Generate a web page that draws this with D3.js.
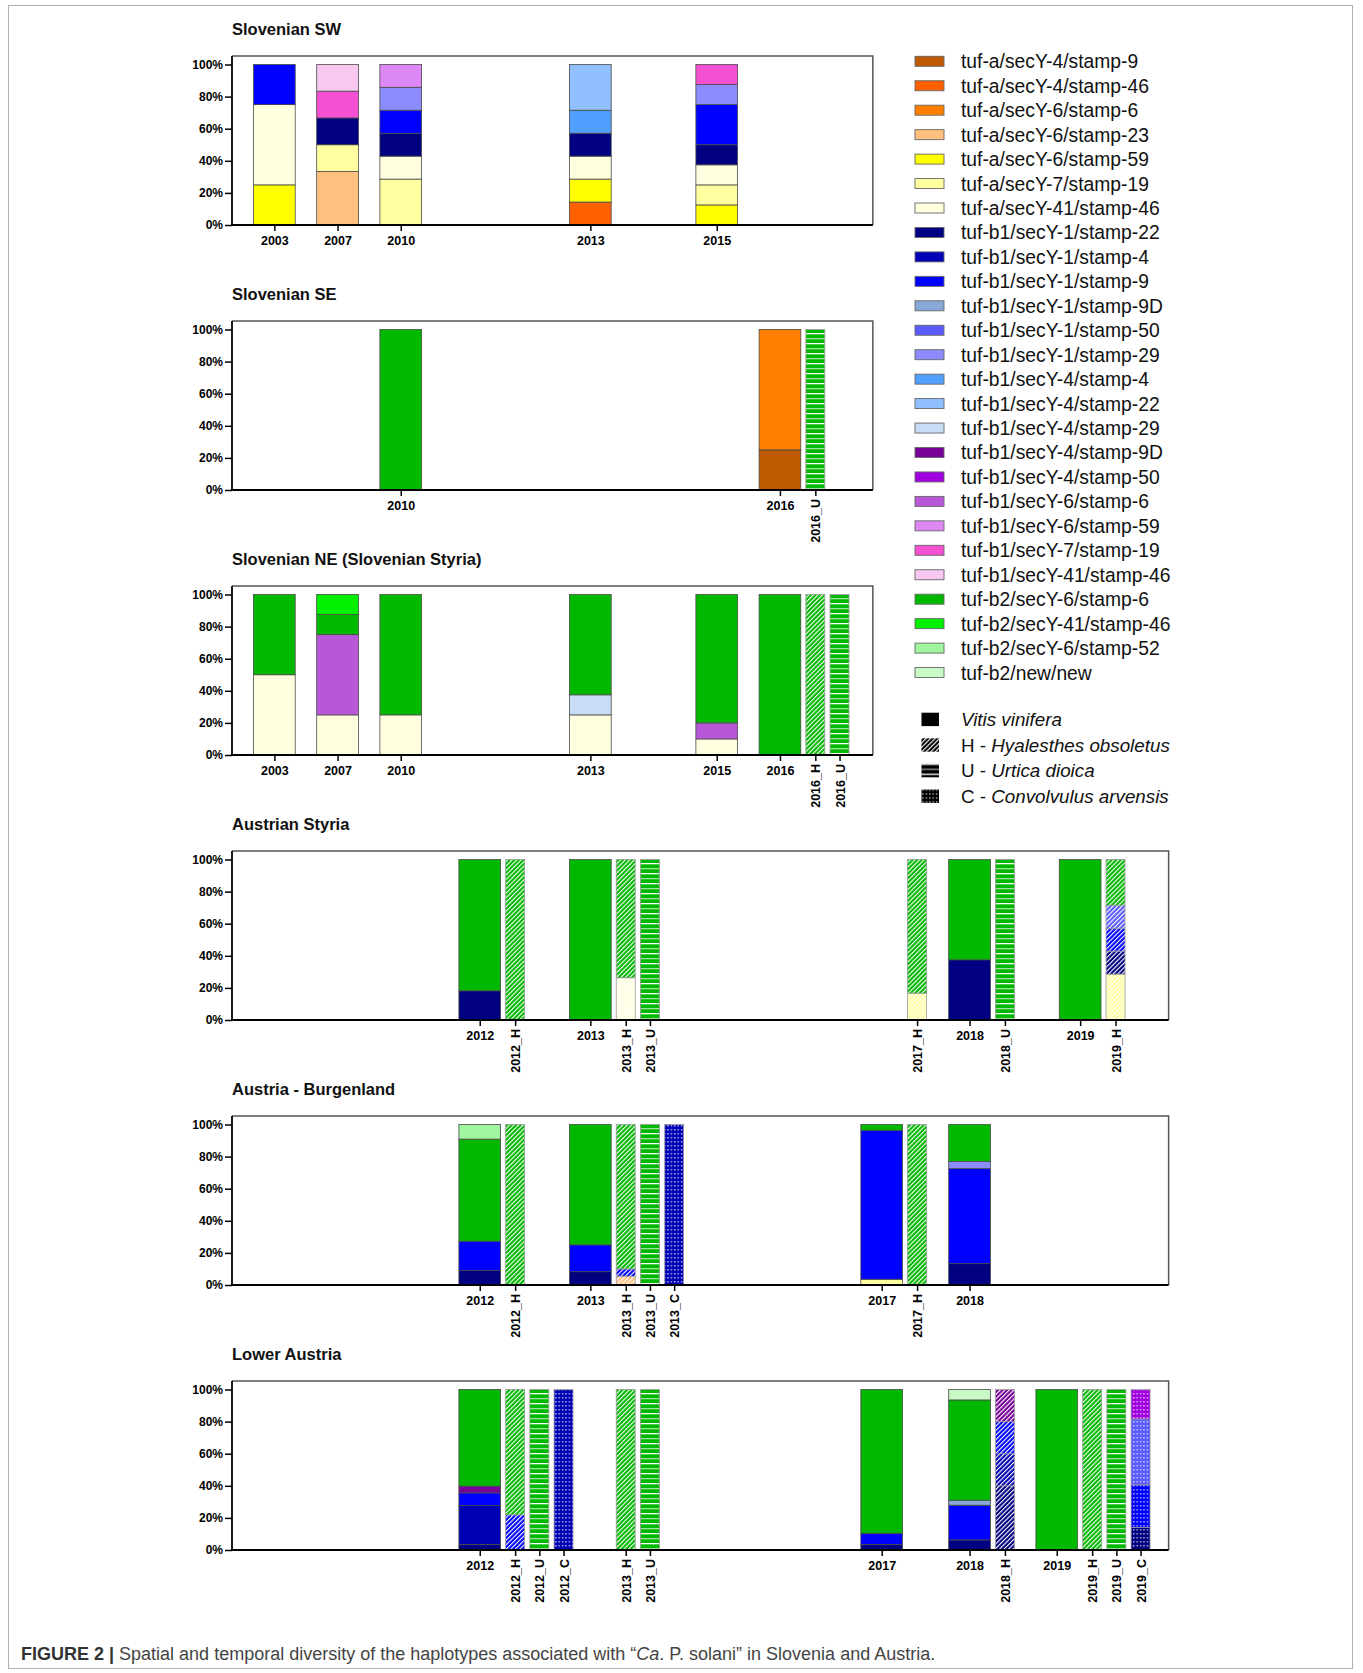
<!DOCTYPE html>
<html>
<head>
<meta charset="utf-8">
<script src="https://cdn.jsdelivr.net/npm/d3@7"></script>
<style>
  body { margin: 0; background: #fff; }
  svg text { font-family: "Liberation Sans", Arial, Helvetica, sans-serif; }
</style>
</head>
<body>
<svg id="fig"></svg>
<script>
// ---- data ----
const haplotypes = [
  "tuf-a/secY-4/stamp-9", "tuf-a/secY-4/stamp-46", "tuf-a/secY-6/stamp-6", "tuf-a/secY-6/stamp-23",
  "tuf-a/secY-6/stamp-59", "tuf-a/secY-7/stamp-19", "tuf-a/secY-41/stamp-46", "tuf-b1/secY-1/stamp-22",
  "tuf-b1/secY-1/stamp-4", "tuf-b1/secY-1/stamp-9", "tuf-b1/secY-1/stamp-9D", "tuf-b1/secY-1/stamp-50",
  "tuf-b1/secY-1/stamp-29", "tuf-b1/secY-4/stamp-4", "tuf-b1/secY-4/stamp-22", "tuf-b1/secY-4/stamp-29",
  "tuf-b1/secY-4/stamp-9D", "tuf-b1/secY-4/stamp-50", "tuf-b1/secY-6/stamp-6", "tuf-b1/secY-6/stamp-59",
  "tuf-b1/secY-7/stamp-19", "tuf-b1/secY-41/stamp-46", "tuf-b2/secY-6/stamp-6", "tuf-b2/secY-41/stamp-46",
  "tuf-b2/secY-6/stamp-52", "tuf-b2/new/new"
];
const hapColors = [
  "#c05a00", "#ff6000", "#ff8000", "#ffc080", "#ffff00", "#ffffa0", "#ffffe0", "#000080",
  "#0000b4", "#0000ff", "#88a8d8", "#5a5aff", "#8c8cff", "#50a0ff", "#90c0ff", "#c8dcf5",
  "#780096", "#a000e0", "#b858d8", "#dd88f5", "#f550d2", "#f8c8f0", "#00b800", "#00f000",
  "#a0f5a0", "#c8fac8"
];
const hostKeys = ["", "H", "U", "C"];
const hostLabels = [["", "Vitis vinifera"], ["H - ", "Hyalesthes obsoletus"], ["U - ", "Urtica dioica"], ["C - ", "Convolvulus arvensis"]];
const yTickLabels = ["0%", "20%", "40%", "60%", "80%", "100%"];
const panelTitles = ["Slovenian SW", "Slovenian SE", "Slovenian NE (Slovenian Styria)", "Austrian Styria", "Austria - Burgenland", "Lower Austria"];

// segments: [haplotype index, % share], stacked bottom to top
const swBars = ["2003", "2007", "2010", "2013", "2015"];
const swSegs = [
  [[4, 25], [6, 50], [9, 25]],
  [[3, 33.3], [5, 16.7], [7, 16.7], [20, 16.7], [21, 16.6]],
  [[5, 28.6], [6, 14.3], [7, 14.3], [9, 14.3], [12, 14.3], [19, 14.2]],
  [[1, 14.3], [4, 14.3], [6, 14.3], [7, 14.3], [13, 14.3], [14, 28.5]],
  [[4, 12.5], [5, 12.5], [6, 12.5], [7, 12.5], [9, 25], [12, 12.5], [20, 12.5]]
];
const seBars = ["2010", "2016", "2016_U"];
const seSegs = [
  [[22, 100]],
  [[0, 25], [2, 75]],
  [[22, 100]]
];
const neBars = ["2003", "2007", "2010", "2013", "2015", "2016", "2016_H", "2016_U"];
const neSegs = [
  [[6, 50], [22, 50]],
  [[6, 25], [18, 50], [22, 12.5], [23, 12.5]],
  [[6, 25], [22, 75]],
  [[6, 25], [15, 12.5], [22, 62.5]],
  [[6, 10], [18, 10], [22, 80]],
  [[22, 100]],
  [[22, 100]],
  [[22, 100]]
];
const styBars = ["2012", "2012_H", "2013", "2013_H", "2013_U", "2017_H", "2018", "2018_U", "2019", "2019_H"];
const stySegs = [
  [[7, 18.2], [22, 81.8]],
  [[22, 100]],
  [[22, 100]],
  [[6, 26.3], [22, 73.7]],
  [[22, 100]],
  [[5, 16.7], [22, 83.3]],
  [[7, 37.5], [22, 62.5]],
  [[22, 100]],
  [[22, 100]],
  [[5, 28.6], [7, 14.3], [9, 14.3], [11, 14.3], [22, 28.5]]
];
const bglBars = ["2012", "2012_H", "2013", "2013_H", "2013_U", "2013_C", "2017", "2017_H", "2018"];
const bglSegs = [
  [[7, 9.1], [9, 18.2], [22, 63.6], [24, 9.1]],
  [[22, 100]],
  [[7, 8.3], [9, 16.7], [22, 75]],
  [[3, 5.5], [9, 4.5], [22, 90]],
  [[22, 100]],
  [[8, 100]],
  [[5, 3.6], [9, 92.8], [22, 3.6]],
  [[22, 100]],
  [[7, 13.3], [9, 59.2], [12, 4.5], [22, 23]]
];
const laBars = ["2012", "2012_H", "2012_U", "2012_C", "2013_H", "2013_U", "2017", "2018", "2018_H", "2019", "2019_H", "2019_U", "2019_C"];
const laSegs = [
  [[7, 3.5], [8, 24.2], [9, 7.9], [16, 4.2], [22, 60.2]],
  [[9, 21.9], [22, 78.1]],
  [[22, 100]],
  [[8, 100]],
  [[22, 100]],
  [[22, 100]],
  [[7, 3.5], [9, 6.9], [22, 89.6]],
  [[7, 6.3], [9, 21.6], [10, 3.1], [22, 62.5], [25, 6.5]],
  [[7, 40], [8, 20], [9, 20], [16, 20]],
  [[22, 100]],
  [[22, 100]],
  [[22, 100]],
  [[7, 14], [9, 26.6], [11, 41.1], [17, 18.3]]
];

// ---- layout ----
const W = 1363, H = 1673;
// where each year group sits on the category axis (slot units)
const sloSlots = {2003: 0, 2007: 1, 2010: 2, 2013: 5, 2015: 7, 2016: 8};
const styAxisSlots = {2012: 3.25, 2013: 5, 2017: 9.61, 2018: 11, 2019: 12.75};
const laAxisSlots = {2012: 3.25, 2013: 5, 2017: 9.61, 2018: 11, 2019: 12.38};

const panels = [
  {bars: swBars, segs: swSegs, slots: sloSlots, end: 9.47},
  {bars: seBars, segs: seSegs, slots: sloSlots, end: 9.47},
  {bars: neBars, segs: neSegs, slots: sloSlots, end: 9.47},
  {bars: styBars, segs: stySegs, slots: styAxisSlots, end: 14.15},
  {bars: bglBars, segs: bglSegs, slots: styAxisSlots, end: 14.15},
  {bars: laBars, segs: laSegs, slots: laAxisSlots, end: 14.15}
];

const svg = d3.select("#fig").attr("width", W).attr("height", H);
const defs = svg.append("defs");

// outer figure border
svg.append("rect").attr("x", 8.5).attr("y", 5.5).attr("width", 1344).attr("height", 1663)
  .attr("fill", "none").attr("stroke", "#b0b0b0").attr("stroke-width", 1);

function fillFor(color, pat) {
  if (!pat) return color;
  const id = "p" + pat + color.slice(1);
  if (defs.select("#" + id).empty()) {
    let p;
    if (pat === "H") {
      p = defs.append("pattern").attr("id", id).attr("patternUnits", "userSpaceOnUse")
        .attr("width", 3.2).attr("height", 3.2).attr("patternTransform", "rotate(45)");
      p.append("rect").attr("width", 3.2).attr("height", 3.2).attr("fill", color);
      p.append("rect").attr("x", 0).attr("width", 1.1).attr("height", 3.2).attr("fill", "#fff");
    } else if (pat === "U") {
      p = defs.append("pattern").attr("id", id).attr("patternUnits", "userSpaceOnUse")
        .attr("y", 3).attr("width", 10).attr("height", 10);
      p.append("rect").attr("width", 10).attr("height", 10).attr("fill", color);
      p.append("rect").attr("y", 0).attr("width", 10).attr("height", 1.3).attr("fill", "#fff");
      p.append("rect").attr("y", 5).attr("width", 10).attr("height", 1.3).attr("fill", "#fff").attr("opacity", 0.6);
    } else {
      p = defs.append("pattern").attr("id", id).attr("patternUnits", "userSpaceOnUse")
        .attr("width", 3.4).attr("height", 4);
      p.append("rect").attr("width", 3.4).attr("height", 4).attr("fill", color);
      p.append("rect").attr("x", 1).attr("y", 1.2).attr("width", 1.2).attr("height", 1.2).attr("fill", "#fff");
    }
  }
  return "url(#" + id + ")";
}

const left = 232, slotPx = 63.2, slot0 = -0.67;
const top0 = 64.5, step = 265, plotH = 160.5;
const wideW = 0.66, narrowW = 0.30, narrowOff = 0.56, narrowStep = 0.383;

panels.forEach((p, i) => {
  const y100 = top0 + step * i, y0 = y100 + plotH;
  const right = left + (p.end - slot0) * slotPx;
  const x = d3.scaleLinear().domain([slot0, p.end]).range([left, right]);
  const y = d3.scaleLinear().domain([0, 100]).range([y0, y100]);
  const g = svg.append("g");

  // bar centres from year group + position among host bars
  const narrowCount = {};
  const bars = p.bars.map((lab, j) => {
    const yr = lab.slice(0, 4), host = lab.length > 4 ? lab.slice(5) : "";
    let c, w;
    if (!host) { c = p.slots[yr]; w = wideW; }
    else {
      const n = narrowCount[yr] || 0;
      narrowCount[yr] = n + 1;
      c = p.slots[yr] + narrowOff + narrowStep * n; w = narrowW;
    }
    let acc = 0;
    const segs = p.segs[j].map(([h, v]) => { const s = {h, y1: acc, y2: acc + v}; acc += v; return s; });
    return {lab, host, c, w, segs};
  });

  // frame (top/right)
  g.append("path")
    .attr("d", `M${left},${y100 - 8.6}H${right}V${y0}`)
    .attr("fill", "none").attr("stroke", "#555").attr("stroke-width", 1.5);

  // bars
  bars.forEach(b => {
    g.append("g").selectAll("rect").data(b.segs).join("rect")
      .attr("x", x(b.c - b.w / 2))
      .attr("width", x(b.c + b.w / 2) - x(b.c - b.w / 2))
      .attr("y", d => y(d.y2))
      .attr("height", d => y(d.y1) - y(d.y2))
      .attr("fill", d => fillFor(hapColors[d.h], b.host))
      .attr("stroke", b.host ? "#9a9a9a" : "#4a4a4a")
      .attr("stroke-width", 0.8);
  });

  // y axis
  const yAx = g.append("g").attr("transform", `translate(${left},0)`)
    .call(d3.axisLeft(y).tickValues(yTickLabels.map(t => parseFloat(t)))
      .tickFormat((d, k) => yTickLabels[k]).tickSize(7).tickPadding(2));
  yAx.select(".domain").remove();
  yAx.selectAll(".tick line").attr("stroke", "#000").attr("stroke-width", 1.5);
  yAx.selectAll(".tick text").attr("font-size", 12).attr("font-weight", "bold").attr("fill", "#000")
    .style("font-family", "'Liberation Sans', Arial, sans-serif");
  g.append("line").attr("x1", left).attr("x2", left).attr("y1", y100 - 8.6).attr("y2", y0 + 0.75)
    .attr("stroke", "#000").attr("stroke-width", 1.8);

  // x axis
  const xs = d3.scaleOrdinal().domain(bars.map(b => b.lab)).range(bars.map(b => x(b.c)));
  const xAx = g.append("g").attr("transform", `translate(0,${y0})`)
    .call(d3.axisBottom(xs).tickSize(6).tickPadding(5));
  xAx.select(".domain").remove();
  xAx.selectAll(".tick line").attr("stroke", "#000").attr("stroke-width", 1.5);
  xAx.selectAll(".tick text")
    .attr("font-size", 12.5).attr("font-weight", "bold").attr("fill", "#000")
    .style("font-family", "'Liberation Sans', Arial, sans-serif")
    .each(function (d) {
      if (d.length > 4) {
        d3.select(this).attr("transform", "rotate(-90)").attr("x", -9).attr("y", 0)
          .attr("dy", "0.36em").style("text-anchor", "end");
      } else {
        d3.select(this).attr("y", 10).attr("dy", "0.76em");
      }
    });
  g.append("line").attr("x1", left - 0.9).attr("x2", right).attr("y1", y0).attr("y2", y0)
    .attr("stroke", "#000").attr("stroke-width", 1.8);

  // title
  g.append("text").attr("x", left).attr("y", y100 - 30)
    .attr("font-size", 16.5).attr("font-weight", "bold").attr("fill", "#111")
    .text(panelTitles[i]);
});

// ---- legend ----
const legX = 915, legTxt = 961, legY0 = 61.3, legStep = 24.45;
const leg = svg.append("g");
const legItems = leg.selectAll("g.hap").data(haplotypes).join("g").attr("class", "hap")
  .attr("transform", (d, k) => `translate(0,${legY0 + legStep * k})`);
legItems.append("rect").attr("x", legX).attr("y", -5).attr("width", 29).attr("height", 10)
  .attr("fill", (d, k) => hapColors[k]).attr("stroke", "#666").attr("stroke-width", 0.9);
legItems.append("text").attr("x", legTxt).attr("y", 0).attr("dy", "0.36em")
  .attr("font-size", 19.3).attr("fill", "#111").text(d => d);

const hostY0 = 719.4, hostStep = 25.6;
const hostItems = leg.selectAll("g.host").data(hostKeys).join("g").attr("class", "host")
  .attr("transform", (d, k) => `translate(0,${hostY0 + hostStep * k})`);
hostItems.append("rect").attr("x", 921.5).attr("y", -6.7).attr("width", 17.5).attr("height", 13.4)
  .attr("fill", d => fillFor("#000000", d));
const ht = hostItems.append("text").attr("x", legTxt).attr("y", 0).attr("dy", "0.36em")
  .attr("font-size", 18.8).attr("fill", "#111");
ht.append("tspan").text((d, k) => hostLabels[k][0]);
ht.append("tspan").attr("font-style", "italic").text((d, k) => hostLabels[k][1]);

// ---- caption ----
const cap = svg.append("text").attr("x", 21).attr("y", 1660).attr("font-size", 18).attr("fill", "#444");
cap.append("tspan").attr("font-weight", "bold").attr("fill", "#333").text("FIGURE 2 | ");
cap.append("tspan").text("Spatial and temporal diversity of the haplotypes associated with \u201c");
cap.append("tspan").attr("font-style", "italic").text("Ca");
cap.append("tspan").text(". P. solani\u201d in Slovenia and Austria.");
</script>
</body>
</html>
